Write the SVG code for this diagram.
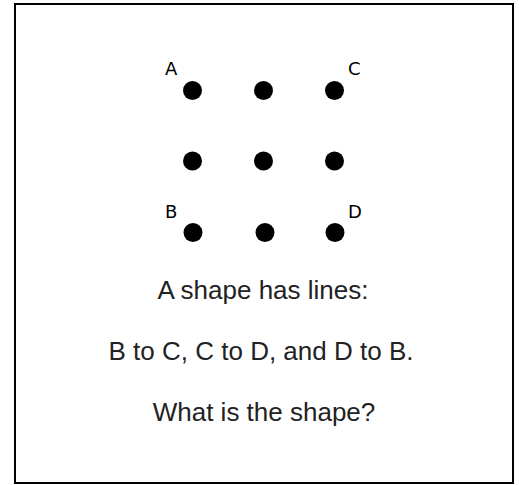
<svg xmlns="http://www.w3.org/2000/svg" width="519" height="485" viewBox="0 0 519 485">
<style>
.dot{fill:#000}
.lbl{font-family:"DejaVu Sans",sans-serif;font-size:18px;fill:#000}
.txt{font-family:"Liberation Sans",Arial,sans-serif;font-size:26px;fill:#222;text-anchor:middle}
</style>
<rect x="0" y="0" width="519" height="485" fill="#fff"/>
<rect x="15" y="4" width="498" height="479" fill="none" stroke="#000" stroke-width="2"/>
<g id="connectors"></g>
<g id="dotA"><circle class="dot" cx="192.5" cy="90.5" r="9.5"/><text class="lbl" x="165" y="75">A</text></g>
<g id="dot12"><circle class="dot" cx="263.5" cy="90.5" r="9.5"/></g>
<g id="dotC"><circle class="dot" cx="334.5" cy="90.5" r="9.5"/><text class="lbl" x="348" y="75">C</text></g>
<g id="dot21"><circle class="dot" cx="192.5" cy="161" r="9.5"/></g>
<g id="dot22"><circle class="dot" cx="263.5" cy="161" r="9.5"/></g>
<g id="dot23"><circle class="dot" cx="334.5" cy="161" r="9.5"/></g>
<g id="dotB"><circle class="dot" cx="193" cy="232.5" r="9.5"/><text class="lbl" x="165" y="218">B</text></g>
<g id="dot32"><circle class="dot" cx="265" cy="232.5" r="9.5"/></g>
<g id="dotD"><circle class="dot" cx="335" cy="232.5" r="9.5"/><text class="lbl" x="348" y="218">D</text></g>
<g id="question">
<text class="txt" x="263" y="299">A shape has lines:</text>
<text class="txt" x="261" y="360">B to C, C to D, and D to B.</text>
<text class="txt" x="264" y="421">What is the shape?</text>
</g>
</svg>
